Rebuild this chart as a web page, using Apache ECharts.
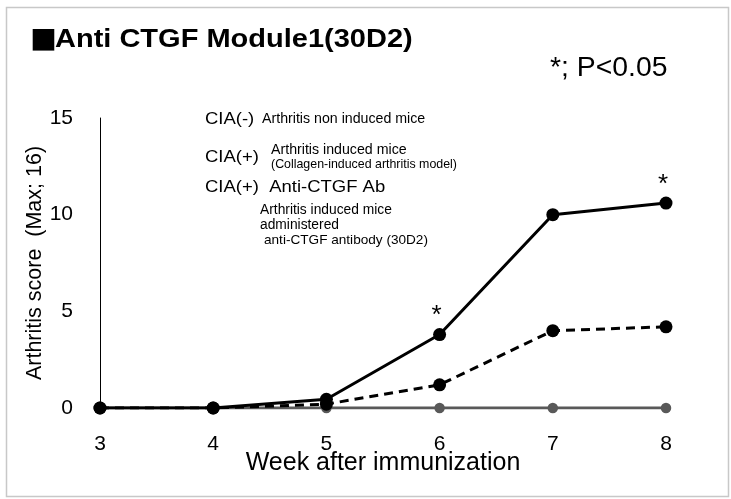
<!DOCTYPE html>
<html><head><meta charset="utf-8">
<script src="https://cdn.jsdelivr.net/npm/echarts@6/dist/echarts.min.js"></script>
<style>html,body{margin:0;padding:0;background:#fff}#c{width:731px;height:499px}</style>
</head><body><div id="c"></div>
<script>
const weeks = ['3','4','5','6','7','8'];
const ciaNeg = [0,0,0,0,0,0];
const ciaPos = [0,0,0.45,3.8,10.0,10.6];
const antiCTGF = [0,0,0.2,1.2,4.0,4.2];
const sigWeeks = ['6','8'];
const yTicks = [0,5,10,15];

const F = 'Liberation Sans, Arial, sans-serif';
const chart = echarts.init(document.getElementById('c'));
const posData = ciaPos.map((v,i)=> sigWeeks.includes(weeks[i]) ?
  {value:v, label:{show:true, formatter:'*', position:'top', distance:-1, offset:[-3,0], fontSize:26, color:'#000', fontFamily:F}} : v);

function txt(x, y, s, size, opts){
  opts = opts || {};
  return {type:'text', x:x, y:y, scaleX:opts.sx||1, silent:true,
    style:{text:s, fontSize:size, fontFamily:opts.font||F, fontWeight:opts.bold?'bold':'normal',
      fill:'#000', textAlign:'left', textVerticalAlign:'middle', verticalAlign:'middle'}};
}

chart.setOption({
  animation:false,
  backgroundColor:'#fff',
  grid:{left:100, right:65, top:118, bottom:91},
  xAxis:{type:'category', data:weeks, boundaryGap:false,
    axisLine:{show:false}, axisTick:{show:false},
    axisLabel:{fontSize:21, color:'#000', margin:26, fontFamily:F},
    name:'Week after immunization', nameLocation:'middle', nameGap:43, nameMoveOverlap:false,
    nameTextStyle:{fontSize:25, color:'#000', fontFamily:F}},
  yAxis:{type:'value', min:0, max:15, interval:5,
    axisLine:{show:true, lineStyle:{color:'#000', width:1}}, axisTick:{show:false},
    splitLine:{show:false},
    axisLabel:{fontSize:21, color:'#000', margin:27, fontFamily:F,
      formatter:v=> yTicks.includes(v) ? String(v) : ''},
    name:'Arthritis score  (Max; 16)', nameLocation:'middle', nameGap:54, nameMoveOverlap:false,
    nameTextStyle:{fontSize:21.5, color:'#000', fontFamily:F}},
  series:[
    {name:'CIA(-)', type:'line', data:ciaNeg, symbol:'circle', symbolSize:10.5,
      lineStyle:{color:'#595959', width:3}, itemStyle:{color:'#595959'}},
    {name:'CIA(+) Anti-CTGF Ab', type:'line', data:antiCTGF, symbol:'circle', symbolSize:13,
      lineStyle:{color:'#000', width:3, type:[9,6]}, itemStyle:{color:'#000'}},
    {name:'CIA(+)', type:'line', data:posData, symbol:'circle', symbolSize:13,
      lineStyle:{color:'#000', width:3}, itemStyle:{color:'#000'}}
  ],
  graphic:[
    {type:'rect', left:4, top:5, silent:true, shape:{width:722, height:489}, style:{fill:'none', stroke:'#c8c8c8', lineWidth:1.5}},
    txt(30, 40, '■', 27, {font:'Noto Sans CJK JP, sans-serif'}),
    txt(55, 40, 'Anti CTGF Module1(30D2)', 25, {bold:true, sx:1.16}),
    txt(550, 69, '*; P<0.05', 27, {sx:1.05}),
    txt(205, 119, 'CIA(-)', 16.5, {sx:1.12}),
    txt(262, 119, 'Arthritis non induced mice', 14.2),
    txt(205, 157, 'CIA(+)', 16.5, {sx:1.12}),
    txt(271, 150, 'Arthritis induced mice', 14.2),
    txt(271, 165, '(Collagen-induced arthritis model)', 12.4),
    txt(205, 187, 'CIA(+)  Anti-CTGF Ab', 16.5, {sx:1.12}),
    txt(260, 210, 'Arthritis induced mice', 13.8),
    txt(260, 225, 'administered', 13.8),
    txt(264, 240, 'anti-CTGF antibody (30D2)', 13.6)
  ]
});
</script></body></html>
